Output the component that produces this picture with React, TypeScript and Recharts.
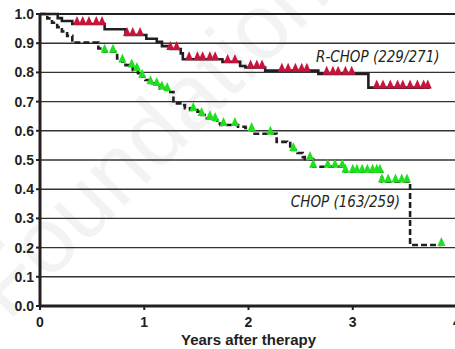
import React from "react"
import { ComposedChart, Line, Scatter, XAxis, YAxis, CartesianGrid, ReferenceLine, ReferenceDot } from "recharts"

// survival curves, step points (years, proportion)
const rchopT = [0, 0.17, 0.21, 0.31, 0.62, 0.82, 1.02, 1.12, 1.17, 1.25, 1.35, 1.37, 1.75, 1.92, 1.97, 2.16, 2.67, 3.15, 3.74]
const rchopS = [1.0, 0.986, 0.976, 0.966, 0.948, 0.928, 0.915, 0.905, 0.89, 0.88, 0.865, 0.845, 0.836, 0.822, 0.817, 0.806, 0.795, 0.748, 0.748]

const chopT = [0, 0.07, 0.115, 0.165, 0.21, 0.26, 0.31, 0.56, 0.62, 0.74, 0.79, 0.82, 0.86, 0.89, 0.94, 0.98, 1.01, 1.06, 1.12, 1.15, 1.22, 1.25, 1.28, 1.36, 1.39, 1.44, 1.51, 1.55, 1.6, 1.65, 1.7, 1.73, 1.9, 1.97, 2.03, 2.04, 2.27, 2.37, 2.4, 2.47, 2.52, 2.54, 2.62, 2.93, 3.28, 3.55, 3.85]
const chopS = [1.0, 0.985, 0.97, 0.955, 0.94, 0.925, 0.902, 0.882, 0.871, 0.848, 0.837, 0.825, 0.82, 0.808, 0.797, 0.785, 0.774, 0.763, 0.757, 0.745, 0.74, 0.733, 0.694, 0.688, 0.677, 0.671, 0.665, 0.654, 0.643, 0.637, 0.625, 0.62, 0.614, 0.61, 0.603, 0.59, 0.562, 0.558, 0.534, 0.524, 0.51, 0.503, 0.477, 0.46, 0.426, 0.209, 0.209]

// censored patients (triangles)
const rchopCensT = [0.355, 0.41, 0.47, 0.54, 0.595, 0.835, 0.89, 0.96, 1.25, 1.31, 1.43, 1.51, 1.56, 1.63, 1.68, 1.8, 1.87, 2.02, 2.08, 2.13, 2.32, 2.38, 2.45, 2.51, 2.56, 2.75, 2.81, 2.86, 2.93, 2.99, 3.23, 3.29, 3.36, 3.43, 3.48, 3.55, 3.62, 3.68, 3.72]
const rchopCensS = [0.966, 0.966, 0.966, 0.966, 0.966, 0.928, 0.928, 0.928, 0.88, 0.88, 0.845, 0.845, 0.845, 0.845, 0.845, 0.836, 0.836, 0.817, 0.817, 0.817, 0.806, 0.806, 0.806, 0.806, 0.806, 0.795, 0.795, 0.795, 0.795, 0.795, 0.748, 0.748, 0.748, 0.748, 0.748, 0.748, 0.748, 0.748, 0.748]

const chopCensT = [0.62, 0.7, 0.79, 0.88, 0.93, 0.98, 1.06, 1.12, 1.17, 1.22, 1.47, 1.55, 1.63, 1.68, 1.76, 1.87, 2.03, 2.21, 2.43, 2.59, 2.62, 2.76, 2.83, 2.9, 2.93, 3.0, 3.04, 3.09, 3.14, 3.19, 3.23, 3.26, 3.28, 3.34, 3.41, 3.47, 3.52, 3.85]
const chopCensS = [0.871, 0.871, 0.837, 0.82, 0.808, 0.785, 0.763, 0.757, 0.745, 0.74, 0.671, 0.654, 0.643, 0.637, 0.62, 0.62, 0.603, 0.59, 0.534, 0.503, 0.477, 0.477, 0.477, 0.477, 0.46, 0.46, 0.46, 0.46, 0.46, 0.46, 0.46, 0.46, 0.426, 0.426, 0.426, 0.426, 0.426, 0.209]

const xTicks = [0, 1, 2, 3, 4]
const yTicks = [0, 0.1, 0.2, 0.3, 0.4, 0.5, 0.6, 0.7, 0.8, 0.9, 1.0]

const zip = (t: number[], s: number[]) => t.map((v, i) => ({ t: v, s: s[i] }))
const rchop = zip(rchopT, rchopS)
const chop = zip(chopT, chopS)
const rchopCens = zip(rchopCensT, rchopCensS)
const chopCens = zip(chopCensT, chopCensS)

const ink = "#231f20"
const tickFont = { fontFamily: "'Liberation Sans', Arial, sans-serif", fontWeight: 700, fontSize: 14, fill: ink }
const noteFont = "'Liberation Sans Narrow', 'DejaVu Sans Condensed', sans-serif"

const Tri = (props: any) => {
  const { cx, cy, fill } = props
  if (cx == null || cy == null) return null
  return <polygon points={`${cx - 4},${cy + 1} ${cx + 4},${cy + 1} ${cx},${cy - 8}`} fill={fill} />
}

export default function App() {
  return (
    <div style={{ position: "absolute", left: 0, top: 0, width: 455, height: 349, overflow: "hidden", background: "#fff" }}>
      <svg width={455} height={349} style={{ position: "absolute", left: 0, top: 0 }}>
        <text
          x={8}
          y={322}
          transform="rotate(-45 8 322)"
          fontFamily="'Liberation Sans', Arial, sans-serif"
          fontSize={92}
          fill="#f3f3f3"
        >
          Foundation
        </text>
      </svg>
      <div style={{ position: "absolute", left: 0, top: 0 }}>
        <ComposedChart width={470} height={349} margin={{ top: 14, right: 13, bottom: 0, left: 0 }}>
          <CartesianGrid vertical={false} stroke="#333" strokeWidth={1.4} />
          <XAxis
            dataKey="t"
            type="number"
            domain={[0, 4]}
            ticks={xTicks}
            allowDataOverflow
            height={43}
            tickSize={4}
            tickMargin={7}
            axisLine={{ stroke: ink, strokeWidth: 3 }}
            tickLine={{ stroke: ink, strokeWidth: 2 }}
            tick={tickFont}
            label={{ value: "Years after therapy", position: "insideBottom", offset: 4, ...tickFont, fontSize: 15 }}
          />
          <YAxis
            type="number"
            domain={[0, 1]}
            ticks={yTicks}
            width={40}
            tickSize={4}
            tickMargin={2}
            tickFormatter={(v: number) => v.toFixed(1)}
            axisLine={{ stroke: ink, strokeWidth: 3 }}
            tickLine={{ stroke: ink, strokeWidth: 2 }}
            tick={tickFont}
          />
          <ReferenceLine y={1} stroke={ink} strokeWidth={2.2} />
          <Scatter data={rchopCens} dataKey="s" fill="#c8143c" shape={Tri} isAnimationActive={false} />
          <Scatter data={chopCens} dataKey="s" fill="#1ee01e" shape={Tri} isAnimationActive={false} />
          <Line data={rchop} dataKey="s" type="stepAfter" dot={false} stroke={ink} strokeWidth={2.6} isAnimationActive={false} />
          <Line data={chop} dataKey="s" type="stepAfter" dot={false} stroke={ink} strokeWidth={2.6} strokeDasharray="6 3" isAnimationActive={false} />
          <ReferenceDot
            x={3.24}
            y={0.854}
            r={0}
            fill="none"
            stroke="none"
            label={{ value: "R-CHOP (229/271)", position: "center", fill: ink, fontStyle: "italic", fontSize: 15, fontFamily: noteFont }}
          />
          <ReferenceDot
            x={2.93}
            y={0.358}
            r={0}
            fill="none"
            stroke="none"
            label={{ value: "CHOP (163/259)", position: "center", fill: ink, fontStyle: "italic", fontSize: 15, fontFamily: noteFont }}
          />
        </ComposedChart>
      </div>
    </div>
  )
}
